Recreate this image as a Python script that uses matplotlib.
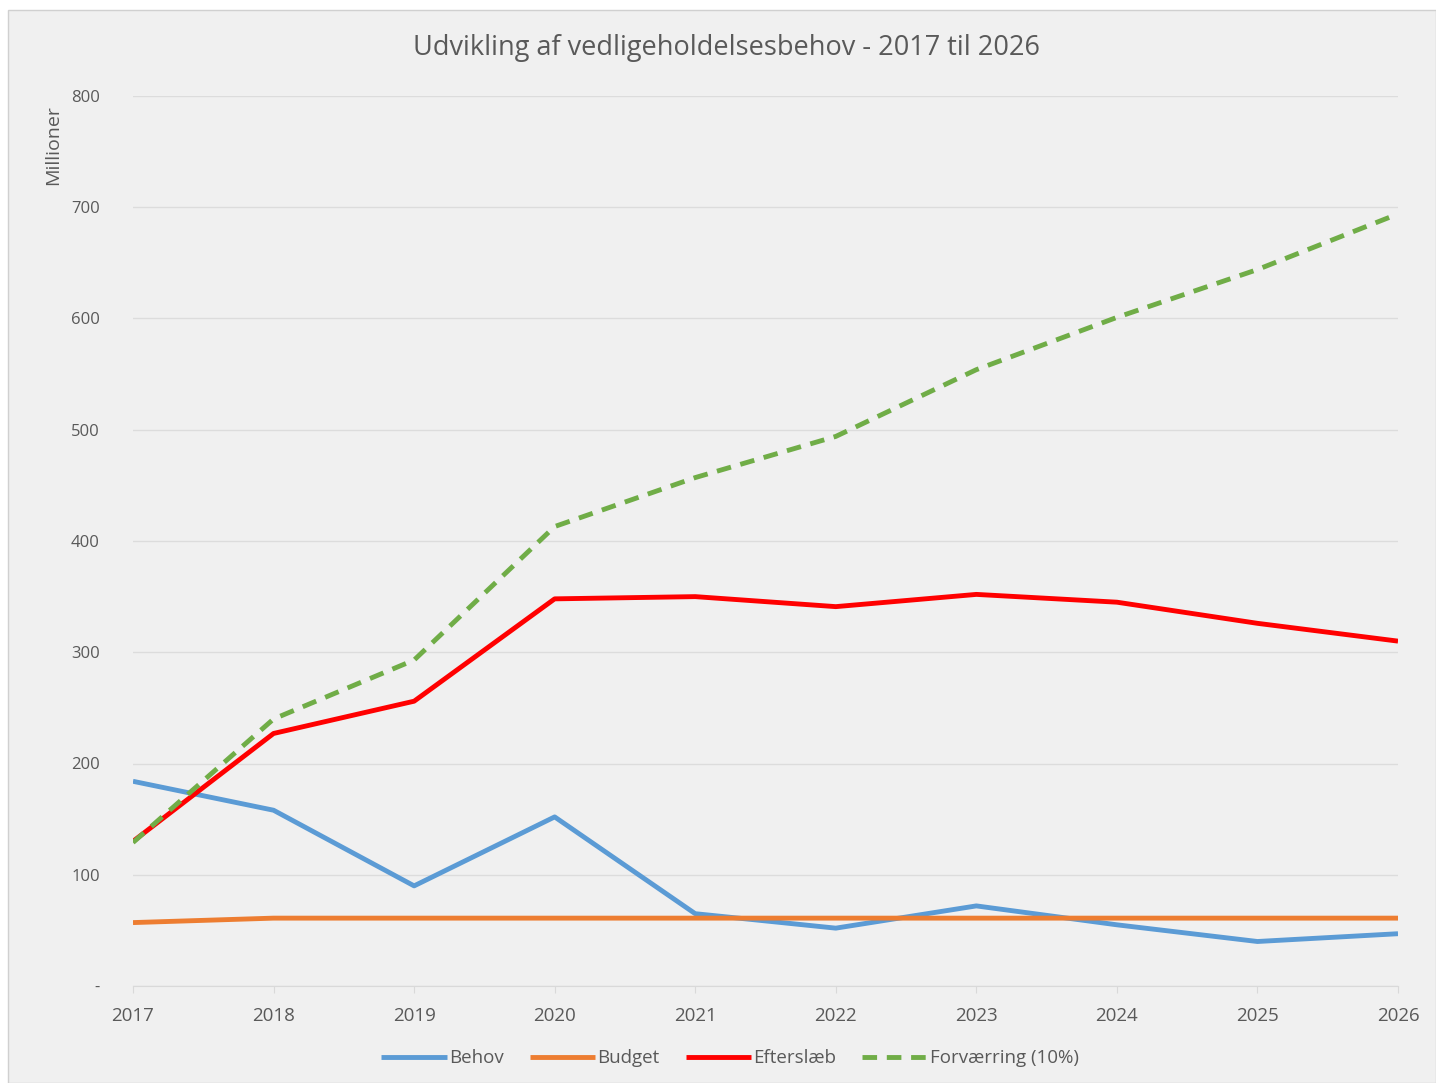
import numpy as np
import matplotlib.pyplot as plt
from matplotlib.patches import Rectangle
from matplotlib.ticker import FuncFormatter

years = [2017, 2018, 2019, 2020, 2021, 2022, 2023, 2024, 2025, 2026]
behov = [184, 158, 90, 152, 65, 52, 72, 55, 40, 47]
budget = [57, 61, 61, 61, 61, 61, 61, 61, 61, 61]
efterslaeb = [130, 227, 256, 348, 350, 341, 352, 345, 326, 310]
forvaerring = [129, 240, 293, 413, 457, 494, 554, 601, 644, 694]

plt.rcParams['font.family'] = ['Open Sans', 'DejaVu Sans']
txt = '#595959'

fig = plt.figure(figsize=(14.36, 10.83), dpi=100)
fig.patch.set_facecolor('white')
# chart area background with thin border
fig.patches.append(Rectangle((8 / 1436, 0), 1 - 8 / 1436, 1 - 10 / 1083, transform=fig.transFigure,
                             facecolor='#f0f0f0', edgecolor='#d0d0d0', lw=1, zorder=-10))

ax = fig.add_axes([133 / 1436, 1 - 986 / 1083, (1398 - 133) / 1436, (986 - 96) / 1083])
ax.set_facecolor('none')

ax.plot(years, behov, color='#5b9bd5', lw=3.5, label='Behov', solid_capstyle='butt')
ax.plot(years, budget, color='#ed7d31', lw=3.5, label='Budget', solid_capstyle='butt')
ax.plot(years, efterslaeb, color='#ff0000', lw=3.5, label='Efterslæb', solid_capstyle='butt')
ax.plot(years, forvaerring, color='#70ad47', lw=3.5, ls=(0, (3, 2)), label='Forværring (10%)')

ax.set_xlim(2017, 2026)
ax.set_ylim(0, 800)
ax.set_xticks(years)
ax.set_yticks(range(0, 801, 100))
ax.yaxis.set_major_formatter(FuncFormatter(lambda v, p: '-' if v == 0 else f'{int(v)}'))
ax.grid(axis='y', color='#dcdcdc', lw=1)
ax.set_axisbelow(True)
for s in ['top', 'right', 'left']:
    ax.spines[s].set_visible(False)
ax.spines['bottom'].set_color('#d9d9d9')
ax.tick_params(axis='y', length=0, pad=24, labelsize=12, labelcolor=txt)
ax.tick_params(axis='x', length=5, color='#d9d9d9', pad=10, labelsize=13.5, labelcolor=txt)

ax.set_ylabel('Millioner', fontsize=14, color=txt)
ax.yaxis.set_label_coords(-0.056, 0.945)

fig.text(0.506, 1 - 48 / 1083, 'Udvikling af vedligeholdelsesbehov - 2017 til 2026',
         ha='center', va='center', fontsize=19.5, color=txt)

leg = ax.legend(loc='center', bbox_to_anchor=(0.472, -0.081), ncol=4, frameon=False,
                fontsize=13.5, handlelength=3.5, handletextpad=0.1, columnspacing=1.4)
for t in leg.get_texts():
    t.set_color(txt)

fig.savefig('out.png', dpi=100, facecolor=fig.get_facecolor())
